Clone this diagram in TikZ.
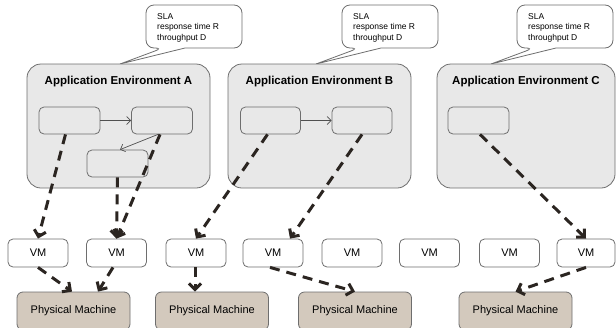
\documentclass[tikz,border=0pt]{standalone}
\usepackage{fontspec}
\setmainfont{Liberation Sans}
\usetikzlibrary{arrows.meta}
\definecolor{envfill}{HTML}{E8E8E8}
\definecolor{boxdraw}{HTML}{6E6E6E}
\definecolor{pmfill}{HTML}{D3C9BD}
\definecolor{arrowc}{HTML}{2B2521}
\definecolor{thinc}{HTML}{505050}
\begin{document}
\begin{tikzpicture}[x=1pt,y=-1pt,
  env/.style={draw=boxdraw, fill=envfill, rounded corners=14pt, minimum height=124pt, inner sep=0pt, line width=0.8pt},
  inbox/.style={draw=boxdraw, fill=envfill, rounded corners=5pt, minimum width=61pt, minimum height=27pt, inner sep=0pt, line width=0.8pt},
  vmbox/.style={draw=boxdraw, fill=white, rounded corners=5pt, minimum width=60pt, minimum height=28pt, inner sep=0pt, line width=0.8pt, font=\fontsize{11}{13}\selectfont},
  pmbox/.style={draw=boxdraw, fill=pmfill, rounded corners=6pt, minimum width=113pt, minimum height=38pt, inner sep=0pt, line width=0.8pt, font=\fontsize{11}{13}\selectfont},
  envtitle/.style={font=\bfseries\fontsize{11.5}{14}\selectfont, inner sep=0pt},
  callout/.style={draw=boxdraw, fill=white, line width=0.8pt},
  slatext/.style={font=\fontsize{8.5}{10.5}\selectfont, align=left, anchor=north west, inner sep=0pt},
  dep/.style={draw=arrowc, line width=3pt, dash pattern=on 10pt off 7pt, -{Straight Barb[length=6pt,width=12pt]}},
  flow/.style={draw=thinc, line width=0.7pt, -{Straight Barb[length=4pt,width=8pt]}}
]
\useasboundingbox (0,0) rectangle (616,327);

% callouts
\draw[callout] (194,5) [rounded corners=8pt] -- (146,5) -- (146,48) -- (163,48) [sharp corners] -- (120,64) -- (185,48) [rounded corners=8pt] -- (242,48) -- (242,5) -- cycle;
\node[slatext] (slaA) at (157,12.9) {SLA\\response time R\\throughput D};
\draw[callout] (390,5) [rounded corners=8pt] -- (342,5) -- (342,48) -- (359,48) [sharp corners] -- (316,64) -- (381,48) [rounded corners=8pt] -- (438,48) -- (438,5) -- cycle;
\node[slatext] (slaB) at (353,12.9) {SLA\\response time R\\throughput D};
\draw[callout] (565,5) [rounded corners=8pt] -- (517,5) -- (517,48) -- (534,48) [sharp corners] -- (491,64) -- (556,48) [rounded corners=8pt] -- (613,48) -- (613,5) -- cycle;
\node[slatext] (slaC) at (528,12.9) {SLA\\response time R\\throughput D};

% environments
\node[env, minimum width=183pt] (eA) at (118.5,126) {};
\node[env, minimum width=183pt] (eB) at (319.5,126) {};
\node[env, minimum width=178pt] (eC) at (526,126) {};
\node[envtitle] (tA) at (118.5,82) {Application Environment A};
\node[envtitle] (tB) at (319.5,82) {Application Environment B};
\node[envtitle] (tC) at (526,82) {Application Environment C};

% inner boxes
\node[inbox] (a1) at (69.5,120.5) {};
\node[inbox] (a2) at (162,120.5) {};
\node[inbox] (a3) at (117.5,163.5) {};
\node[inbox, minimum width=60pt] (b1) at (270.5,120.5) {};
\node[inbox, minimum width=60pt] (b2) at (362,120.5) {};
\node[inbox] (c1) at (478.5,120.5) {};

\draw[flow] (a1.east) -- (a2.west);
\draw[flow] ([xshift=-4pt]a2.south) -- ([xshift=2.5pt]a3.north);
\draw[flow] (b1.east) -- (b2.west);

% VMs
\node[vmbox] (v1) at (38,253) {VM};
\node[vmbox] (v2) at (116.5,253) {VM};
\node[vmbox] (v3) at (196,253) {VM};
\node[vmbox] (v4) at (273,253) {VM};
\node[vmbox] (v5) at (352,253) {VM};
\node[vmbox] (v6) at (429.5,253) {VM};
\node[vmbox] (v7) at (509.5,253) {VM};
\node[vmbox, minimum width=58pt] (v8) at (586,253) {VM};

% physical machines
\node[pmbox] (p1) at (73.5,311) {Physical Machine};
\node[pmbox] (p2) at (212,311) {Physical Machine};
\node[pmbox] (p3) at (355,311) {Physical Machine};
\node[pmbox] (p4) at (515.5,311) {Physical Machine};

% deployment arrows
\draw[dep] ([xshift=-4pt]a1.south) -- (v1.north);
\draw[dep] ([xshift=-2pt]a2.south) -- (v2.north);
\draw[dep] (a3.south) -- (v2.north);
\draw[dep] ([xshift=-3pt]b1.south) -- (v3.north);
\draw[dep] (b2.south) -- ([xshift=17pt]v4.north);
\draw[dep] ([xshift=1.5pt]c1.south) -- (v8.north);

\draw[dep] (v1.south) -- ([xshift=-1.5pt]p1.north);
\draw[dep] ([xshift=-3.5pt]v2.south) -- ([xshift=24.5pt]p1.north);
\draw[dep] ([xshift=-1pt]v3.south) -- ([xshift=-17pt]p2.north);
\draw[dep] ([xshift=-3pt]v4.south) -- (p3.north);
\draw[dep] (v8.south) -- (p4.north);
\end{tikzpicture}
\end{document}
